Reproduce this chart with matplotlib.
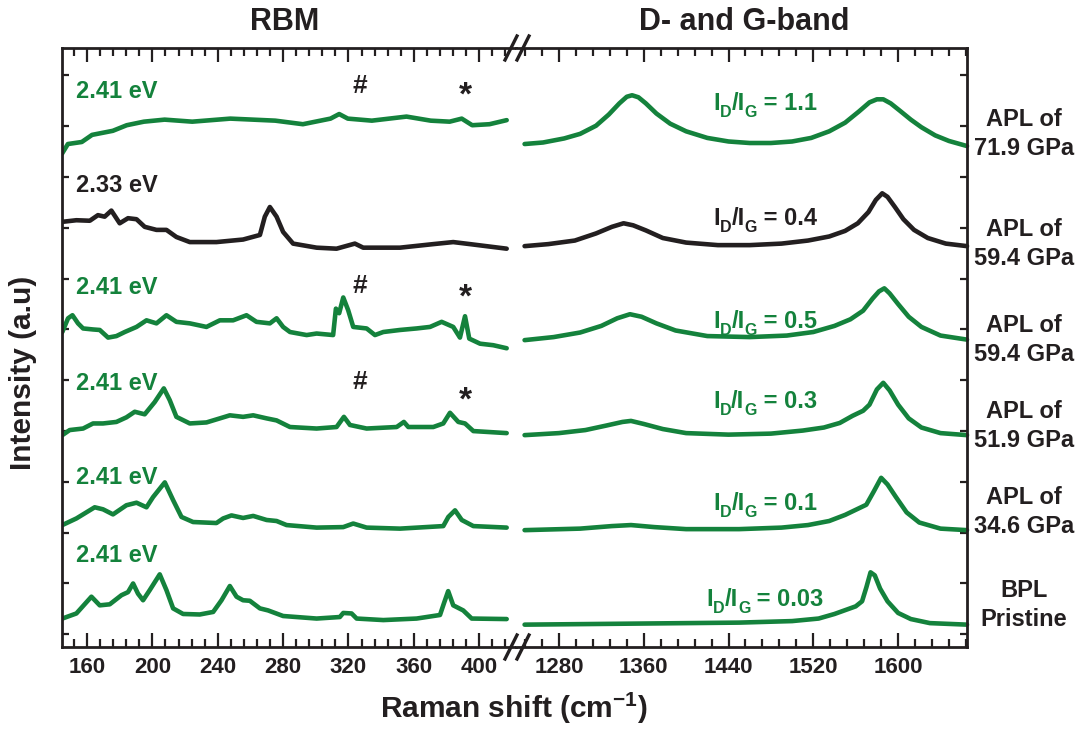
import matplotlib
matplotlib.use('Agg')
import matplotlib.pyplot as plt
from matplotlib.ticker import MultipleLocator, NullFormatter
from matplotlib.lines import Line2D

plt.rcParams['font.family'] = ['Liberation Sans', 'DejaVu Sans']
plt.rcParams['font.weight'] = 'bold'
plt.rcParams['mathtext.fontset'] = 'custom'
plt.rcParams['mathtext.rm'] = 'Liberation Sans:bold'
plt.rcParams['mathtext.bf'] = 'Liberation Sans:bold'
plt.rcParams['mathtext.it'] = 'Liberation Sans:bold'

GREEN = '#14823c'
BLACK = '#231f20'

# ---------------- data (Raman shift in cm^-1, relative intensity) ----------------
# order: top -> bottom
sample_names = ['APL of\n71.9 GPa', 'APL of\n59.4 GPa', 'APL of\n59.4 GPa',
                'APL of\n51.9 GPa', 'APL of\n34.6 GPa', 'BPL\nPristine']
laser_labels = ['2.41 eV', '2.33 eV', '2.41 eV', '2.41 eV', '2.41 eV', '2.41 eV']
ratio_values = ['1.1', '0.4', '0.5', '0.3', '0.1', '0.03']
series_colors = [GREEN, BLACK, GREEN, GREEN, GREEN, GREEN]
offsets = [8.65, 6.65, 4.95, 3.0, 1.15, -0.7]

x_rbm_719 = [144.7, 148.3, 156.8, 163.1, 175.8, 184.3, 194.8, 207.5, 224.4, 247.7, 275.2, 292.1,
             309.0, 314.3, 319.6, 334.3, 355.5, 370.3, 381.9, 389.3, 395.7, 406.3, 416.8]
y_rbm_719 = [-0.19, 0.0, 0.04, 0.18, 0.26, 0.37, 0.44, 0.48, 0.44, 0.50, 0.46, 0.39,
             0.50, 0.59, 0.50, 0.46, 0.54, 0.46, 0.44, 0.50, 0.37, 0.39, 0.47]
x_dg_719 = [1247.6, 1265, 1285, 1300, 1315, 1327, 1337, 1344, 1349, 1355, 1362, 1372, 1385,
            1400, 1420, 1440, 1460, 1480, 1500, 1518, 1535, 1550, 1563, 1573, 1580, 1586,
            1593, 1602, 1612, 1622, 1635, 1648, 1665]
y_dg_719 = [0.0, 0.03, 0.11, 0.20, 0.36, 0.58, 0.80, 0.93, 0.96, 0.92, 0.80, 0.60, 0.40,
            0.25, 0.12, 0.05, 0.02, 0.02, 0.05, 0.12, 0.25, 0.42, 0.64, 0.82, 0.88, 0.88,
            0.80, 0.65, 0.48, 0.33, 0.17, 0.06, -0.04]

x_rbm_594k = [145.3, 153.5, 161.7, 166.7, 170.8, 174.9, 180.0, 185.1, 190.3, 195.3, 202.5, 208.6,
              214.7, 222.9, 239.2, 255.5, 265.8, 268.8, 271.9, 276.0, 280.0, 286.1, 300.5, 312.7,
              323.9, 329.0, 351.5, 371.9, 384.1, 394.3, 416.8]
y_rbm_594k = [0.47, 0.50, 0.49, 0.60, 0.57, 0.69, 0.44, 0.54, 0.52, 0.37, 0.31, 0.31,
              0.17, 0.07, 0.07, 0.12, 0.21, 0.57, 0.76, 0.57, 0.27, 0.04, -0.04, -0.06,
              0.04, -0.04, -0.04, 0.03, 0.07, 0.03, -0.06]
x_dg_594k = [1247.6, 1270, 1295, 1315, 1330, 1341, 1350, 1362, 1378, 1400, 1430, 1460, 1490,
             1515, 1535, 1550, 1562, 1572, 1579, 1585, 1590, 1597, 1605, 1615, 1628, 1645, 1665]
y_dg_594k = [-0.01, 0.03, 0.10, 0.24, 0.37, 0.44, 0.40, 0.30, 0.15, 0.06, 0.01, 0.01, 0.04,
             0.10, 0.18, 0.29, 0.44, 0.66, 0.90, 1.03, 0.96, 0.76, 0.52, 0.31, 0.15, 0.04, -0.01]

x_rbm_594g = [144.9, 148.4, 151.1, 154.5, 157.6, 163.7, 167.8, 172.9, 178.0, 183.1, 190.3, 196.4,
              202.5, 208.6, 214.7, 222.9, 233.1, 241.3, 249.4, 257.6, 263.7, 271.9, 276.0, 280.0,
              284.2, 294.4, 300.5, 310.6, 312.3, 314.3, 316.8, 319.8, 322.9, 331.1, 336.2, 341.3,
              351.5, 361.7, 369.9, 377.0, 384.1, 388.2, 391.3, 393.9, 400.5, 408.6, 416.8]
y_rbm_594g = [0.0, 0.27, 0.33, 0.17, 0.07, 0.05, 0.04, -0.11, -0.08, 0.0, 0.10, 0.23,
              0.17, 0.33, 0.20, 0.17, 0.10, 0.23, 0.23, 0.33, 0.20, 0.17, 0.27, 0.10,
              0.0, -0.06, -0.03, -0.06, 0.46, 0.37, 0.68, 0.43, 0.10, 0.07, -0.06, 0.0,
              0.04, 0.07, 0.10, 0.20, 0.10, -0.11, 0.31, -0.13, -0.23, -0.26, -0.32]
x_dg_594g = [1247.6, 1275, 1300, 1320, 1335, 1347, 1358, 1372, 1390, 1420, 1460, 1495, 1520,
             1540, 1555, 1567, 1576, 1582, 1587, 1592, 1600, 1610, 1622, 1640, 1665]
y_dg_594g = [-0.16, -0.10, -0.01, 0.12, 0.27, 0.35, 0.30, 0.17, 0.03, -0.08, -0.10, -0.07, 0.0,
             0.12, 0.25, 0.42, 0.66, 0.80, 0.86, 0.76, 0.55, 0.30, 0.10, -0.07, -0.15]

x_rbm_519 = [144.9, 149.4, 157.6, 163.7, 169.8, 178.0, 184.1, 189.2, 195.3, 201.4, 207.0, 210.6,
             214.7, 222.9, 233.1, 241.3, 247.4, 255.5, 261.7, 269.9, 276.0, 284.2, 300.5, 312.7,
             317.2, 320.9, 331.1, 349.5, 353.9, 356.6, 371.9, 378.0, 382.1, 387.2, 391.3, 396.4, 416.8]
y_rbm_519 = [-0.08, 0.02, 0.05, 0.15, 0.15, 0.18, 0.27, 0.38, 0.33, 0.57, 0.84, 0.61,
             0.28, 0.15, 0.17, 0.25, 0.31, 0.28, 0.31, 0.25, 0.21, 0.08, 0.05, 0.08,
             0.28, 0.12, 0.05, 0.08, 0.18, 0.08, 0.08, 0.15, 0.36, 0.18, 0.15, 0.0, -0.04]
x_dg_519 = [1247.6, 1280, 1305, 1325, 1340, 1348, 1360, 1378, 1400, 1440, 1480, 1510, 1530,
            1545, 1557, 1567, 1573, 1580, 1586, 1592, 1600, 1610, 1622, 1640, 1665]
y_dg_519 = [-0.08, -0.04, 0.02, 0.11, 0.18, 0.20, 0.14, 0.04, -0.04, -0.07, -0.05, 0.01, 0.07,
            0.16, 0.30, 0.40, 0.52, 0.82, 0.95, 0.80, 0.52, 0.25, 0.07, -0.04, -0.08]

x_rbm_346 = [144.9, 153.5, 164.7, 169.8, 175.9, 184.1, 190.3, 196.4, 200.4, 207.6, 212.7, 217.8,
             224.9, 239.2, 243.3, 248.4, 255.5, 261.7, 269.9, 276.0, 282.1, 300.5, 316.8, 322.9,
             331.1, 351.5, 378.0, 381.1, 385.2, 389.3, 396.4, 416.8]
y_rbm_346 = [0.0, 0.13, 0.35, 0.31, 0.21, 0.39, 0.44, 0.35, 0.55, 0.84, 0.49, 0.16,
             0.06, 0.04, 0.13, 0.19, 0.14, 0.18, 0.10, 0.08, 0.0, -0.05, -0.04, 0.03,
             -0.05, -0.07, -0.02, 0.16, 0.29, 0.10, -0.02, -0.05]
x_dg_346 = [1247.6, 1300, 1330, 1348, 1370, 1400, 1450, 1490, 1515, 1535, 1550, 1563, 1570,
            1577, 1584, 1590, 1598, 1608, 1620, 1640, 1665]
y_dg_346 = [-0.10, -0.07, -0.02, 0.0, -0.04, -0.08, -0.08, -0.05, 0.0, 0.08, 0.20, 0.33, 0.40,
            0.66, 0.93, 0.80, 0.55, 0.25, 0.05, -0.07, -0.10]

x_rbm_pr = [144.9, 153.5, 162.7, 167.8, 173.9, 181.1, 185.1, 188.2, 191.2, 194.3, 198.4, 204.5,
            208.6, 212.7, 218.8, 229.0, 237.2, 242.3, 247.4, 251.5, 255.5, 259.6, 265.8, 270.8,
            280.0, 300.5, 314.7, 316.8, 321.9, 325.0, 341.3, 361.7, 376.0, 378.4, 381.0, 384.1,
            390.2, 395.4, 416.8]
y_rbm_pr = [0.01, 0.11, 0.44, 0.27, 0.29, 0.47, 0.53, 0.70, 0.50, 0.37, 0.57, 0.88,
            0.57, 0.21, 0.10, 0.09, 0.14, 0.37, 0.65, 0.44, 0.37, 0.36, 0.21, 0.17,
            0.06, 0.01, 0.04, 0.12, 0.11, 0.01, -0.02, 0.01, 0.08, 0.31, 0.55, 0.27,
            0.17, 0.01, 0.0]
x_dg_pr = [1247.6, 1350, 1450, 1500, 1525, 1540, 1552, 1560, 1566, 1570, 1574, 1578, 1583,
           1590, 1600, 1612, 1630, 1665]
y_dg_pr = [-0.11, -0.09, -0.07, -0.04, 0.01, 0.10, 0.19, 0.25, 0.35, 0.62, 0.92, 0.86, 0.60,
           0.35, 0.12, 0.0, -0.08, -0.11]

rbm_x = [x_rbm_719, x_rbm_594k, x_rbm_594g, x_rbm_519, x_rbm_346, x_rbm_pr]
rbm_y = [y_rbm_719, y_rbm_594k, y_rbm_594g, y_rbm_519, y_rbm_346, y_rbm_pr]
dg_x = [x_dg_719, x_dg_594k, x_dg_594g, x_dg_519, x_dg_346, x_dg_pr]
dg_y = [y_dg_719, y_dg_594k, y_dg_594g, y_dg_519, y_dg_346, y_dg_pr]

# ---------------- layout ----------------
W, H = 1083, 729
fig = plt.figure(figsize=(W / 100, H / 100), dpi=100)

def fx(px):
    return px / W

def fy(py):
    return 1 - py / H

L, B, R, T = 62, 647, 967, 48
BRK = 516
axL = fig.add_axes([fx(L), fy(B), (BRK - L) / W, (B - T) / H])
axR = fig.add_axes([fx(BRK), fy(B), (R - BRK) / W, (B - T) / H])

lw = 3.3
for i in range(6):
    axL.plot(rbm_x[i], [v + offsets[i] for v in rbm_y[i]], color=series_colors[i], lw=lw,
             solid_joinstyle='round', solid_capstyle='round')
    axR.plot(dg_x[i], [v + offsets[i] for v in dg_y[i]], color=series_colors[i], lw=lw,
             solid_joinstyle='round', solid_capstyle='round', clip_on=False)

ylim = (-1.25, 10.54)
axL.set_xlim(144.7, 422.5)
axR.set_xlim(1239.5, 1665.0)
for ax in (axL, axR):
    ax.set_ylim(*ylim)
    ax.yaxis.set_major_locator(MultipleLocator(1))
    ax.yaxis.set_major_formatter(NullFormatter())
    for s in ax.spines.values():
        s.set_linewidth(2.0)
        s.set_color(BLACK)
    ax.tick_params(axis='x', which='both', direction='in', top=True, bottom=True,
                   width=1.6, color=BLACK, labelsize=16, pad=7, labelcolor=BLACK)
    ax.tick_params(axis='x', which='major', length=10)
    ax.tick_params(axis='x', which='minor', length=5.5)
    ax.tick_params(axis='y', which='major', direction='in', length=5, width=1.6, color=BLACK)
    for lab in ax.get_xticklabels():
        lab.set_fontweight('bold')

axL.spines['right'].set_visible(False)
axR.spines['left'].set_visible(False)
axL.tick_params(axis='y', left=True, right=False)
axR.tick_params(axis='y', left=False, right=True)
axL.xaxis.set_major_locator(MultipleLocator(40))
axL.xaxis.set_minor_locator(MultipleLocator(8))
axR.xaxis.set_major_locator(MultipleLocator(80))
axR.xaxis.set_minor_locator(MultipleLocator(16))

# break marks
for yb in (T, B):
    for dx in (-5, 7):
        xc = BRK + dx
        fig.add_artist(Line2D([fx(xc - 6), fx(xc + 6)], [fy(yb + 12), fy(yb - 12)],
                              color=BLACK, lw=2.4, transform=fig.transFigure))

# ---------------- text ----------------
fig.text(fx(285), fy(22), 'RBM', ha='center', va='center', fontsize=22, fontweight='bold', color=BLACK)
fig.text(fx(744), fy(22), 'D- and G-band', ha='center', va='center', fontsize=22,
         fontweight='bold', color=BLACK)
fig.text(fx(514), fy(708), r'Raman shift (cm$^{-1}$)', ha='center', va='center', fontsize=21.5,
         fontweight='bold', color=BLACK)
fig.text(fx(23), fy(373), 'Intensity (a.u)', ha='center', va='center', rotation=90, fontsize=21.5,
         fontweight='bold', color=BLACK)

ev_y = [92, 185, 288, 383, 478, 555]
for lab, yy, c in zip(laser_labels, ev_y, series_colors):
    fig.text(fx(76), fy(yy), lab, ha='left', va='center', fontsize=17, fontweight='bold', color=c)

marks = [('#', 360, 86), ('*', 465, 96), ('#', 360, 286), ('*', 465, 298),
         ('#', 360, 382), ('*', 465, 401)]
for s, xx, yy in marks:
    fig.text(fx(xx), fy(yy), s, ha='center', va='center', fontsize=19 if s == '#' else 24,
             fontweight='bold', color=BLACK)

# I_D/I_G labels composed piecewise so the subscripts sit low like the original
renderer = fig.canvas.get_renderer()
ratio_y = [110, 225, 328, 408, 510, 606]
for val, yy, c in zip(ratio_values, ratio_y, series_colors):
    parts = [('I', 17, 0), ('D', 11.5, 7), ('/I', 17, 0), ('G', 11.5, 7), (' = ' + val, 17, 0)]
    objs = []
    for s, fs, dy in parts:
        t = fig.text(0, 0, s, fontsize=fs, fontweight='bold', color=c, va='baseline', ha='left')
        objs.append((t, dy))
    widths = [t.get_window_extent(renderer).width for t, _ in objs]
    total = sum(widths)
    x0 = 765 - total / 2
    for (t, dy), w in zip(objs, widths):
        t.set_position((fx(x0), fy(yy + dy)))
        x0 += w

name_y = [134, 244, 340, 426, 512, 605]
for name, yy in zip(sample_names, name_y):
    fig.text(fx(1024), fy(yy), name, ha='center', va='center', fontsize=17, fontweight='bold',
             color=BLACK, linespacing=1.3)

fig.savefig('out.png', dpi=100)
